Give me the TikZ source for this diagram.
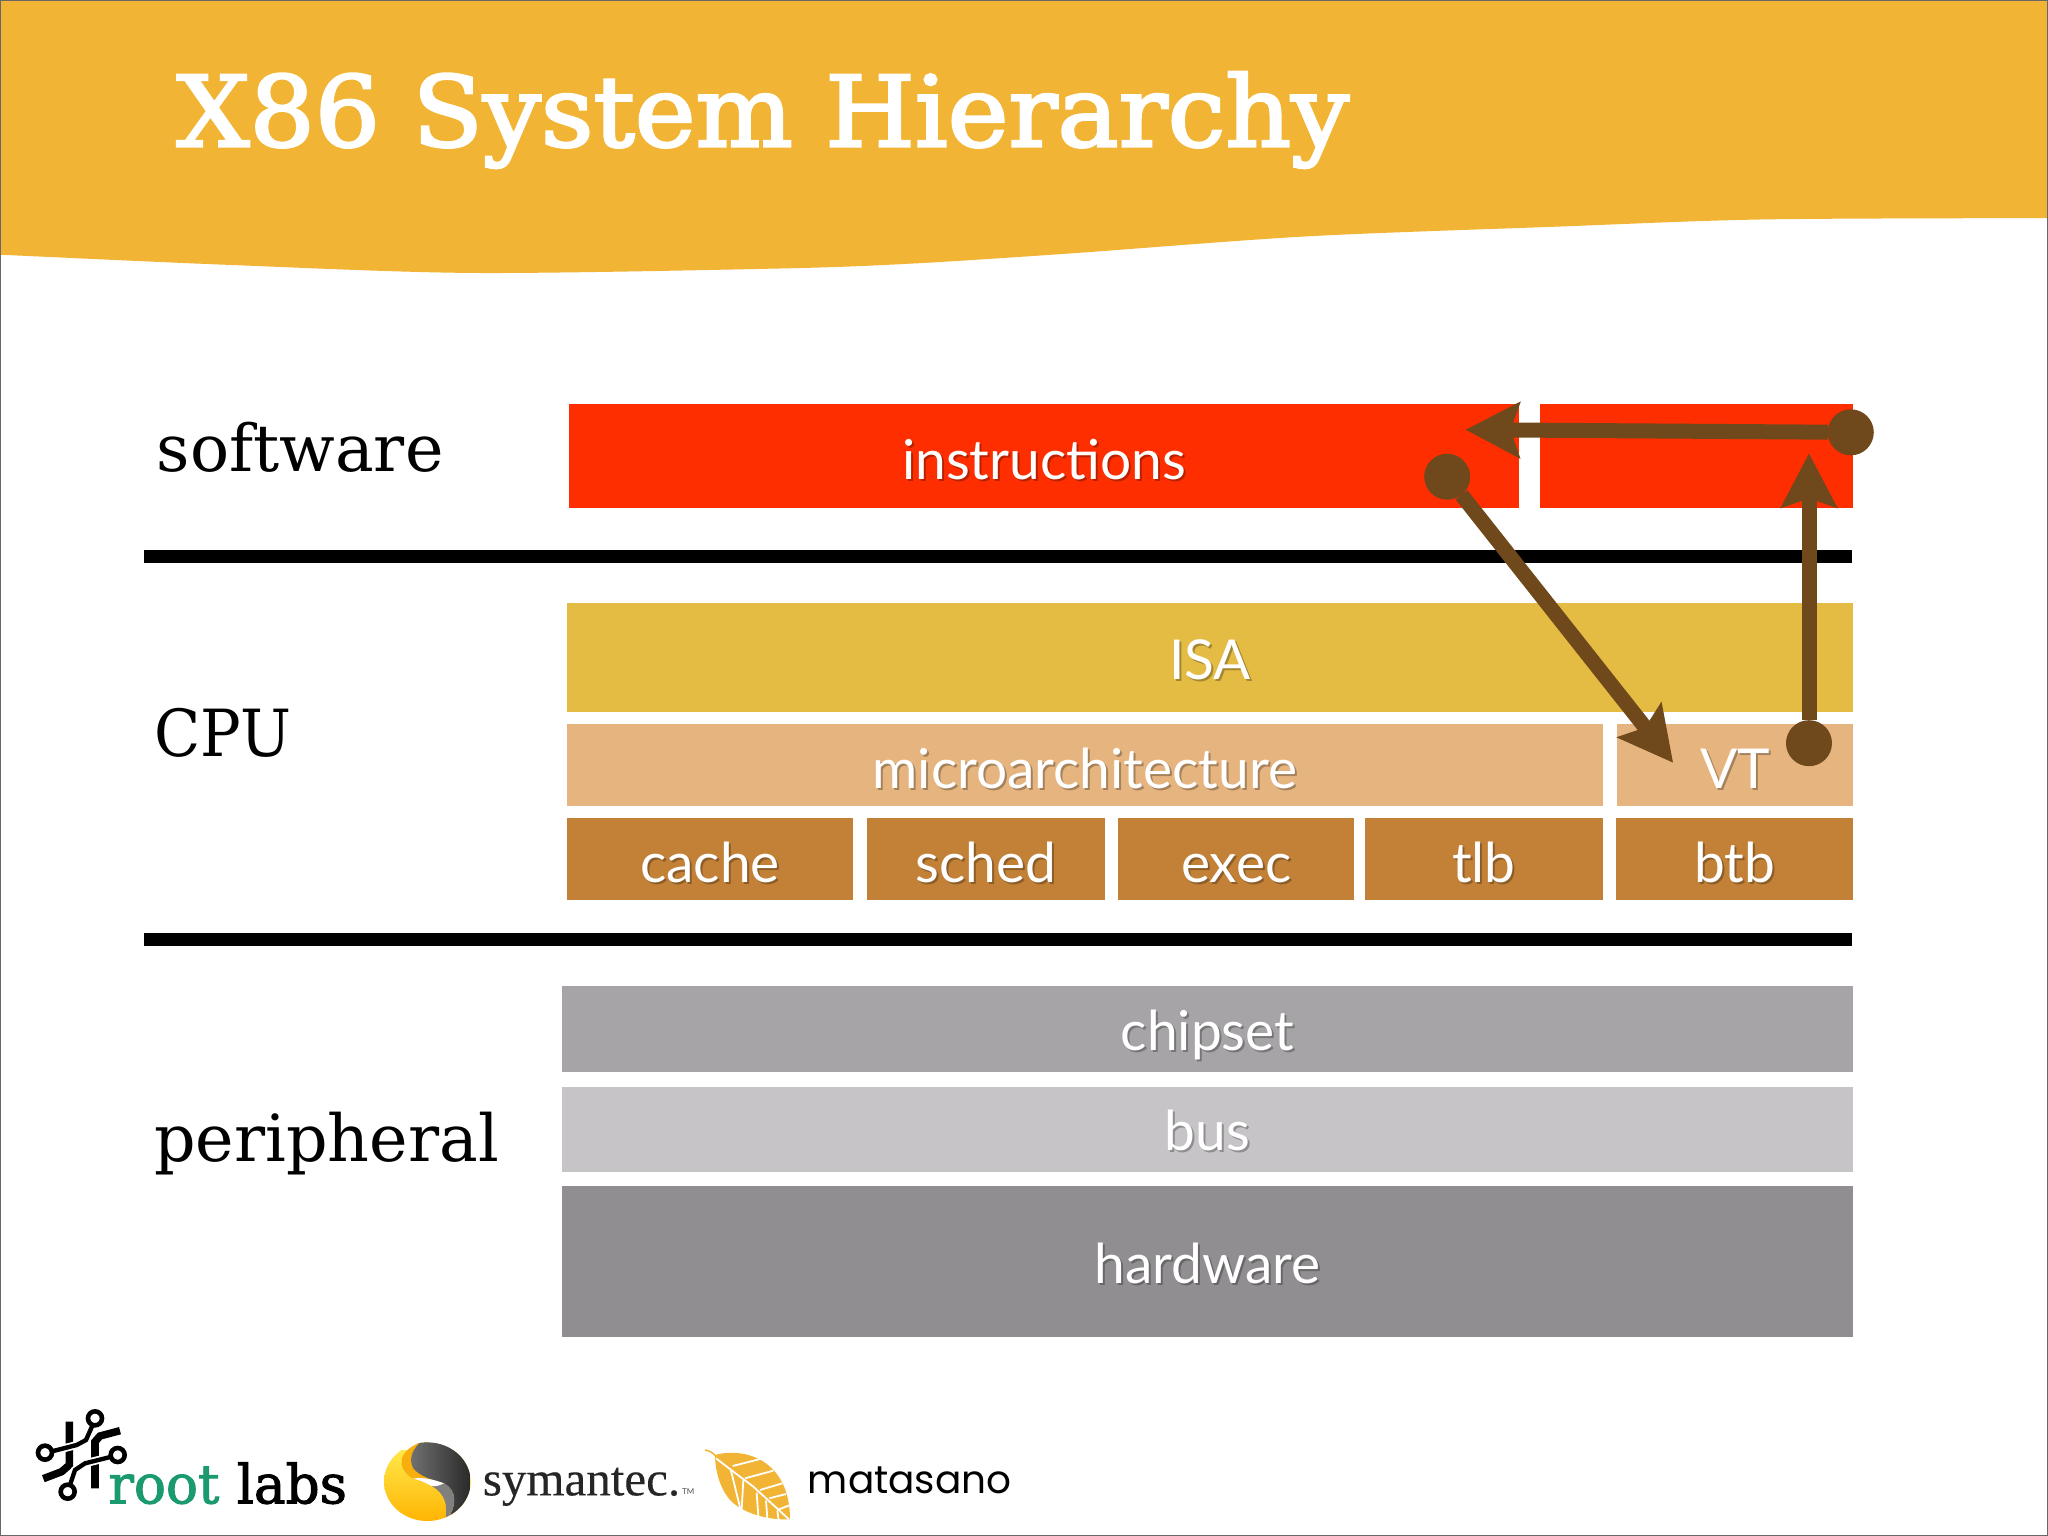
\documentclass[tikz,border=0pt]{standalone}
\usepackage{fontspec}
\usetikzlibrary{arrows.meta}
\setmainfont{Lato}
\newfontfamily\slabfont{DejaVu Serif}
\newfontfamily\titlefont[FakeBold=2.6]{DejaVu Serif}
\newfontfamily\logofont[FakeBold=1.8]{DejaVu Serif}
\newfontfamily\timesfont[FakeBold=0.3]{Liberation Serif}
\newfontfamily\geofont{Poppins}
\definecolor{bandc}{HTML}{F2B434}
\definecolor{redc}{HTML}{FF2E00}
\definecolor{isac}{HTML}{E4BC43}
\definecolor{microc}{HTML}{E6B57F}
\definecolor{cachec}{HTML}{C28137}
\definecolor{chipc}{HTML}{A6A4A6}
\definecolor{busc}{HTML}{C6C4C7}
\definecolor{hardc}{HTML}{908E90}
\definecolor{brownc}{HTML}{6F491C}
\definecolor{greenc}{HTML}{1B9A70}
\definecolor{framec}{HTML}{6A6866}
\definecolor{symy}{HTML}{FFE84A}
\definecolor{symo}{HTML}{FFB300}
\definecolor{symb}{HTML}{F8AE0C}
\newcommand{\stxt}[2]{\makebox[0pt][l]{\raisebox{-2pt}{\hspace{2pt}\textcolor{#1!72!black}{#2}}}#2}
\def\un{1.30612pt}
\tikzset{
  cell/.style={anchor=north west,inner sep=0pt,outer sep=0pt,text=white,
    font=\fontsize{55}{55}\selectfont,text height=50pt,text depth=3pt},
  raised/.style={text depth=7pt},
  sidelabel/.style={anchor=base west,inner sep=0pt,font=\slabfont\fontsize{65}{65}\selectfont},
  dot/.style={circle,fill=brownc,inner sep=0pt,minimum size=46pt,outer sep=0pt},
  conn/.style={line width=15pt,brownc,-{Stealth[length=54pt,width=55pt,inset=9pt]}},
  ring/.style={circle,draw=black,fill=white,line width=4.6pt,inner sep=0pt,minimum size=14pt},
  trace/.style={line width=4.4pt,black},
  halo/.style={line width=8pt,white},
  bar/.style={line width=7.5pt,black},
  vein/.style={line width=1.8pt,white},
}
\begin{document}
\begin{tikzpicture}[x=1.30612pt,y=-1.30612pt]
\useasboundingbox (0,0) rectangle (1568,1176);
\fill[white] (0,0) rectangle (1568,1176);
% header band
\fill[bandc] (0,0) -- (1568,0) -- plot[smooth,tension=.5] coordinates {(1568,167) (1350,168) (1190,173.6) (1000,181) (820,194) (700,201.7) (600,205.5) (365,209) (180,203) (0,195)} -- cycle;
\node[anchor=base west,inner sep=0pt,text=white,font=\titlefont\fontsize{98}{98}\selectfont] (title) at (135,112) {\scalebox{1.047}[1]{X86 System Hierarchy}};
% left labels
\node[sidelabel] (lsoft) at (120,361) {software};
\node[sidelabel] (lcpu) at (118,579) {\scalebox{0.93}[1]{CPU}};
\node[sidelabel] (lperi) at (118,889) {peripheral};
% rules
\fill[black] (110,421) rectangle (1418,431);
\fill[black] (110,714) rectangle (1418,724);
% cells
\node[cell,fill=redc,minimum width=727*\un,minimum height=80*\un] (instr) at (436,309) {\stxt{redc}{instructions}};
\node[cell,fill=redc,minimum width=240*\un,minimum height=80*\un] (redb) at (1179,309) {};
\node[cell,raised,fill=isac,minimum width=985*\un,minimum height=83*\un] (isa) at (434,462) {\stxt{isac}{ISA}};
\node[cell,fill=microc,minimum width=793*\un,minimum height=63*\un] (micro) at (434,554) {\stxt{microc}{microarchitecture}};
\node[cell,fill=microc,minimum width=181*\un,minimum height=63*\un] (vt) at (1238,554) {\stxt{microc}{VT}};
\node[cell,fill=cachec,minimum width=219*\un,minimum height=63*\un] (cache) at (434,626) {\stxt{cachec}{cache}};
\node[cell,fill=cachec,minimum width=182*\un,minimum height=63*\un] (sched) at (664,626) {\stxt{cachec}{sched}};
\node[cell,fill=cachec,minimum width=181*\un,minimum height=63*\un] (exec) at (856,626) {\stxt{cachec}{exec}};
\node[cell,fill=cachec,minimum width=182*\un,minimum height=63*\un] (tlb) at (1045,626) {\stxt{cachec}{tlb}};
\node[cell,fill=cachec,minimum width=182*\un,minimum height=63*\un] (btb) at (1237,626) {\stxt{cachec}{btb}};
\node[cell,raised,fill=chipc,minimum width=989*\un,minimum height=66*\un] (chip) at (430,755) {\stxt{chipc}{chipset}};
\node[cell,raised,fill=busc,minimum width=989*\un,minimum height=65*\un] (bus) at (430,832) {\stxt{busc}{bus}};
\node[cell,raised,fill=hardc,minimum width=989*\un,minimum height=116*\un] (hard) at (430,908) {\stxt{hardc}{hardware}};
% arrows
\coordinate (tipa) at (1122,329);
\coordinate (tipb) at (1281,584);
\coordinate (tipc) at (1385,347);
\node[dot] (dota) at (1417,331) {};
\node[dot] (dotb) at (1108,365) {};
\node[dot] (dotc) at (1385,569) {};
\draw[conn] (dota) -- (tipa);
\draw[conn] (dotb) -- (tipb);
\draw[conn] (dotc) -- (tipc);
% root labs logo
\begin{scope}[shift={(20pt,-1400pt)},x=.33333pt,y=-.33333pt]
  \draw[bar] (148,65) -- (148,195) -- (125,215) -- (70,236);
  \draw[bar] (225,265) -- (225,125) -- (240,108) -- (300,92);
  \draw[halo] (92,155) -- (170,135) -- (198,120) -- (218,75);
  \draw[halo] (275,170) -- (195,190) -- (165,210) -- (150,255);
  \draw[trace] (92,155) -- (170,135) -- (198,120) -- (218,75);
  \draw[trace] (275,170) -- (195,190) -- (165,210) -- (150,255);
  \node[ring] (ra) at (75,158) {};
  \node[ring] (rb) at (225,55) {};
  \node[ring] (rc) at (293,165) {};
  \node[ring] (rd) at (143,275) {};
  \node[anchor=base west,inner sep=0pt,font=\logofont\fontsize{54}{54}\selectfont] (rl) at (265,310) {\scalebox{0.985}[1]{\textcolor{greenc}{root}\hspace{0.33em}labs}};
\end{scope}
% symantec logo
\begin{scope}[shift={(370pt,-1430pt)},x=.33333pt,y=-.33333pt]
  \begin{scope}
    \clip (172,155) ellipse [x radius=130,y radius=118];
    \shade[top color=symy,bottom color=symo] (30,60) rectangle (310,280);
    \fill[symb] (170,30) .. controls (75,60) and (80,115) .. (128,146)
       .. controls (150,152) and (170,160) .. (185,168) -- (220,100) -- cycle;
    \shade[left color=black!55,right color=black!85] (160,30) -- (310,30) -- (310,280) -- (225,280)
       .. controls (265,225) and (260,180) .. (222,160)
       .. controls (190,150) and (150,140) .. (130,115)
       .. controls (115,90) and (125,55) .. (160,30) -- cycle;
    \fill[black!50] (185,168) .. controls (205,165) and (215,160) .. (222,160)
       .. controls (260,180) and (265,225) .. (225,275)
       .. controls (235,225) and (225,190) .. (185,168) -- cycle;
    \fill[white] (128,146) .. controls (160,140) and (195,150) .. (222,160)
       .. controls (205,168) and (195,170) .. (185,168)
       .. controls (165,158) and (150,150) .. (128,146) -- cycle;
  \end{scope}
  \node[anchor=base west,inner sep=0pt,text=black!85,font=\timesfont\fontsize{49}{49}\selectfont] (sy) at (338,196) {symantec.};
  \node[anchor=base west,inner sep=0pt,text=black!70,font=\fontsize{8}{8}\selectfont] (tm) at (936,194) {TM};
\end{scope}
% matasano logo
\begin{scope}[shift={(690pt,-1430pt)},x=.33333pt,y=-.33333pt]
  \draw[bandc,line width=1.5pt] (45,60) .. controls (60,62) and (72,70) .. (82,85);
  \fill[bandc] (75,75) .. controls (120,62) and (190,65) .. (240,110)
     .. controls (285,150) and (300,210) .. (300,268)
     .. controls (240,270) and (170,255) .. (125,215)
     .. controls (90,180) and (75,120) .. (75,75) -- cycle;
  \draw[vein] (78,85) -- (130,125) -- (190,170) -- (250,225) -- (297,268);
  \draw[vein] (128,108) -- (218,85);
  \draw[vein] (165,145) -- (250,122);
  \draw[vein] (210,180) -- (277,160);
  \draw[vein] (238,205) -- (288,192);
  \draw[vein] (262,240) -- (298,226);
  \draw[vein] (122,118) -- (152,240);
  \draw[vein] (160,150) -- (155,238);
  \draw[vein] (200,188) -- (205,258);
  \draw[vein] (228,212) -- (232,265);
  \draw[vein] (262,242) -- (266,272);
  \node[anchor=base west,inner sep=0pt,text=black,font=\geofont\fontsize{39}{39}\selectfont] (ma) at (353,190) {matasano};
\end{scope}
% frame
\draw[framec,line width=2pt] (0,0) rectangle (1568,1176);
\end{tikzpicture}
\end{document}
